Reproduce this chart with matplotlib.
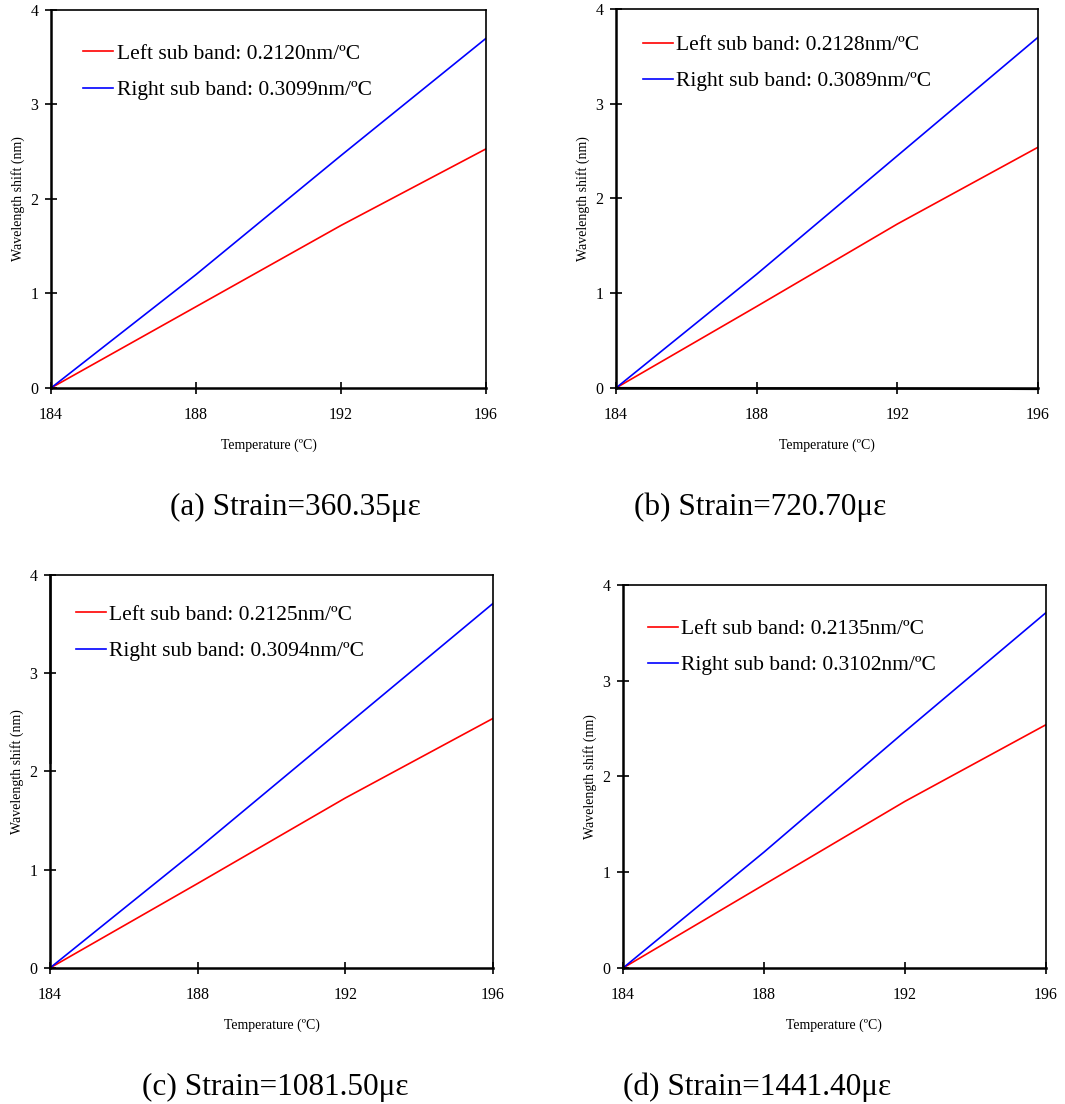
import numpy as np
import matplotlib.pyplot as plt

plt.rcParams['font.family'] = ['Liberation Serif', 'DejaVu Serif']

# ─── DATA ─────────────────────────────────────────────────────────────────
temps = [184, 188, 192, 196]

left_a  = [0, 0.86, 1.72, 2.53]
right_a = [0, 1.20, 2.46, 3.70]
left_b  = [0, 0.86, 1.73, 2.54]
right_b = [0, 1.20, 2.45, 3.70]
left_c  = [0, 0.86, 1.73, 2.54]
right_c = [0, 1.21, 2.46, 3.71]
left_d  = [0, 0.87, 1.74, 2.54]
right_d = [0, 1.21, 2.47, 3.71]

# stray traces in panels (b) and (c)
base_b = [0, -0.003, -0.006, -0.012]
edge_c_x = [184, 184]
edge_c_y = [2.1, 4.0]

left_rates  = ['0.2120', '0.2128', '0.2125', '0.2135']
right_rates = ['0.3099', '0.3089', '0.3094', '0.3102']
strains = ['360.35', '720.70', '1081.50', '1441.40']
letters = ['a', 'b', 'c', 'd']

xticks = [184, 188, 192, 196]
yticks = [0, 1, 2, 3, 4]

# ─── LAYOUT ───────────────────────────────────────────────────────────────
fig = plt.figure(figsize=(10.65, 11.04), dpi=100)

# [left, bottom, width, height] in figure fraction
boxes = [
    [0.0479, 0.6486, 0.4085, 0.3424],
    [0.5784, 0.6486, 0.3962, 0.3433],
    [0.0469, 0.1232, 0.4160, 0.3560],
    [0.5850, 0.1232, 0.3970, 0.3469],
]
legend_pos = [(0.074, 0.91), (0.064, 0.931), (0.059, 0.924), (0.059, 0.911)]
caption_xy = [(295, 507), (760, 507), (275, 1087), (757, 1087)]

lefts = [left_a, left_b, left_c, left_d]
rights = [right_a, right_b, right_c, right_d]

for i in range(4):
    ax = fig.add_axes(boxes[i])
    ax.plot(temps, lefts[i], color='red', lw=1.2,
            label='Left sub band: %snm/ºC' % left_rates[i])
    ax.plot(temps, rights[i], color='blue', lw=1.2,
            label='Right sub band: %snm/ºC' % right_rates[i])
    if i == 1:
        ax.plot(temps, base_b, color='black', lw=1.5, clip_on=False)
    if i == 2:
        ax.plot(edge_c_x, edge_c_y, color='0.45', lw=2.0, clip_on=False, zorder=1)

    ax.set_xlim(184, 196)
    ax.set_ylim(0, 4)
    ax.set_xticks(xticks)
    ax.set_yticks(yticks)
    ax.tick_params(axis='both', direction='inout', length=8, width=1.2,
                   labelsize=11.5, color='black')
    ax.tick_params(axis='x', pad=10)
    ax.tick_params(axis='y', pad=5)
    for side in ['left', 'bottom']:
        ax.spines[side].set_linewidth(1.8)
    for side in ['top', 'right']:
        ax.spines[side].set_linewidth(1.2)

    ax.set_xlabel('Temperature (ºC)', fontsize=10, labelpad=11)
    ax.set_ylabel('Wavelength shift (nm)', fontsize=10, labelpad=4)

    ax.legend(loc='upper left', bbox_to_anchor=legend_pos[i], frameon=False,
              fontsize=15.5, handlelength=1.4, handletextpad=0.15,
              labelspacing=0.75, borderaxespad=0, borderpad=0)

    cx, cy = caption_xy[i]
    fig.text(cx / 1065, 1 - cy / 1104,
             '(%s) Strain=%sμε' % (letters[i], strains[i]),
             fontsize=22.5, ha='center', va='center')

plt.savefig('out.png', dpi=100)
